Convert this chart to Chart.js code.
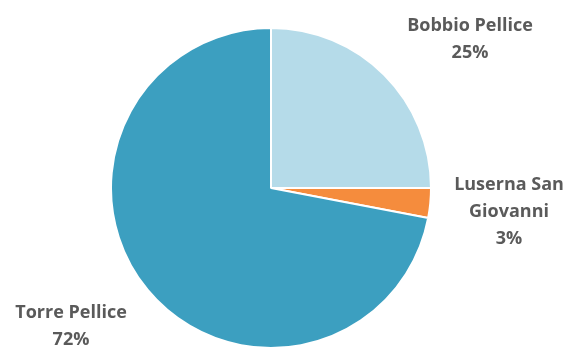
<!DOCTYPE html>
<html>
<head>
<meta charset="utf-8">
<script src="https://cdn.jsdelivr.net/npm/chart.js@4"></script>
<style>
  html, body { margin: 0; padding: 0; background: #fff; }
  #wrap { width: 568px; height: 349px; }
</style>
</head>
<body>
<div id="wrap"><canvas id="pie"></canvas></div>
<script>
const categories = ['Bobbio Pellice', 'Luserna San Giovanni', 'Torre Pellice'];
const shares = [25, 3, 72];
const sliceColors = ['#b5dbe9', '#f58c3d', '#3c9fc0'];

// label lines and where each label block is centred
const labelLines = [['Bobbio Pellice'], ['Luserna San', 'Giovanni'], ['Torre Pellice']];
const labelSpots = [[470, 26], [509, 185], [71, 313]];

const outsideLabels = {
    id: 'outsideLabels',
    afterDatasetsDraw(chart) {
        const ctx = chart.ctx;
        const values = chart.data.datasets[0].data;
        ctx.save();
        ctx.font = 'bold 18px "Open Sans", sans-serif';
        ctx.fillStyle = '#5a5a5a';
        ctx.textAlign = 'center';
        ctx.textBaseline = 'middle';
        labelLines.forEach((lines, i) => {
            const [x, y] = labelSpots[i];
            const all = lines.concat([values[i] + '%']);
            all.forEach((t, k) => ctx.fillText(t, x, y + k * 27));
        });
        ctx.restore();
    }
};

new Chart(document.getElementById('pie').getContext('2d'), {
    type: 'pie',
    data: {
        labels: categories,
        datasets: [{
            data: shares,
            backgroundColor: sliceColors,
            borderColor: '#ffffff',
            borderWidth: 2
        }]
    },
    options: {
        responsive: true,
        maintainAspectRatio: false,
        animation: false,
        layout: { padding: { left: 110, right: 136, top: 27, bottom: 0 } },
        plugins: {
            legend: { display: false },
            tooltip: { enabled: false }
        }
    },
    plugins: [outsideLabels]
});
</script>
</body>
</html>
